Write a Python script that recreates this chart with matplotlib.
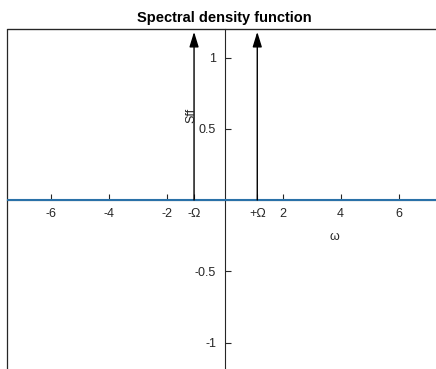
import matplotlib
matplotlib.use("Agg")
import matplotlib.pyplot as plt
from matplotlib.patches import Rectangle

plt.rcParams['font.family'] = ['Liberation Sans', 'DejaVu Sans']

# data
omega = [-7.5, 7.5]
sff = [0.0, 0.0]
arrow_x = [-1.05, 1.13]      # -Omega, +Omega
arrow_top = 1.18
xticks = [-6, -4, -2, -1.05, 1.13, 2, 4, 6]
xticklabels = ['-6', '-4', '-2', '-Ω', '+Ω', '2', '4', '6']
yticks = [-1, -0.5, 0.5, 1]
yticklabels = ['-1', '-0.5', '0.5', '1']

axc = '#262626'
fig = plt.figure(figsize=(4.36, 3.69), dpi=100)
ax = fig.add_axes([7/436, -2/369, 435/436, 342/369])

ax.plot(omega, sff, color='#2a71a8', lw=1.5, zorder=3)
for x in arrow_x:
    ax.annotate('', xy=(x, arrow_top), xytext=(x, 0),
                arrowprops=dict(arrowstyle='-|>,head_length=0.65,head_width=0.2',
                                color='k', lw=1, mutation_scale=14,
                                shrinkA=0, shrinkB=0))

ax.set_xlim(-7.5, 7.5)
ax.set_ylim(-1.2, 1.2)

# axes through origin, plus a box
ax.spines['left'].set_position(('data', 0))
ax.spines['bottom'].set_position(('data', 0))
for s in ax.spines.values():
    s.set_color(axc)
    s.set_linewidth(0.8)
ax.add_patch(Rectangle((0, 0), 1, 1, transform=ax.transAxes, fill=False,
                       edgecolor=axc, lw=0.9, clip_on=False))

ax.set_xticks(xticks)
ax.set_xticklabels(xticklabels)
ax.set_yticks(yticks)
ax.set_yticklabels(yticklabels)
ax.tick_params(direction='in', length=4, width=0.8, color=axc,
               labelsize=9, labelcolor=axc, pad=6)

ax.text(3.8, -0.26, 'ω', fontsize=9, color=axc, ha='center', va='center')
ax.text(-1.15, 0.59, 'Sff', fontsize=9, color=axc, ha='center', va='center',
        rotation=90)

fig.text(0.514, 0.951, 'Spectral density function', fontsize=10.5,
         fontweight='bold', ha='center', va='center')

fig.savefig('out.png', dpi=100)
